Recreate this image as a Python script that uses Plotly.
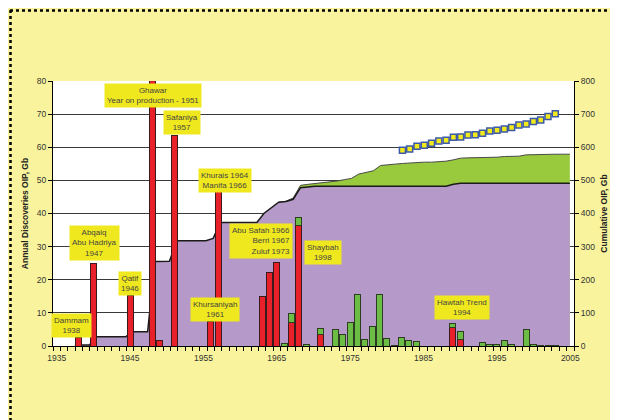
import plotly.graph_objects as go

# ---------------- data ----------------
red_years = [1938, 1940, 1945, 1948, 1949, 1951, 1956, 1957, 1963, 1964, 1965,
             1967, 1968, 1971, 1989, 1990]
red_values = [2.7, 25.0, 15.3, 200, 1.6, 63.6, 7.4, 46.9, 14.8, 22.1, 25.3,
              7.2, 36.3, 3.5, 5.6, 2.1]

green_years = [1966, 1967, 1968, 1969, 1971, 1973, 1974, 1975, 1976, 1977, 1978,
               1979, 1980, 1981, 1982, 1983, 1984, 1989, 1990, 1993, 1994, 1995,
               1996, 1997, 1999, 2000, 2001, 2002, 2003]
green_values = [0.8, 2.7, 2.6, 0.5, 1.7, 5.0, 3.4, 7.2, 15.5, 2.0, 6.0,
                15.5, 2.2, 0.3, 2.7, 1.8, 1.3, 1.2, 2.2, 1.1, 0.5, 0.5,
                1.7, 0.5, 5.0, 0.5, 0.2, 0.2, 0.2]

cum_years = list(range(1937, 2006))
cum_saudi = [0, 2.7, 2.7, 28, 28, 28, 28, 28, 43, 43, 43, 255, 256, 256,
             318, 318, 318, 318, 318, 325, 373,
             373, 373, 373, 373, 373,
             401, 418, 434, 436, 443, 478, 481,
             482, 482, 482, 482, 482, 482, 482, 482, 482, 482, 482, 482, 482,
             482, 482, 482, 482, 482, 482,
             488,
             491, 491, 491, 491, 491, 491, 491, 491, 491, 491, 491, 491, 491,
             491, 491, 491]

total_years = list(range(1965, 2006))
cum_total = [434, 437, 447, 485, 488, 490, 492, 494, 498, 502,
             506, 519, 523, 529, 545, 548, 549, 551, 553, 554,
             555, 555, 556, 558, 562, 567, 568, 568, 569, 570,
             570, 572, 572, 573, 577, 578, 578, 579, 579, 579, 579]

marker_years = list(range(1982, 2004))
marker_values = [591, 595, 603, 606, 612, 619, 621, 630, 631, 637, 638,
                 642, 649, 651, 655, 660, 667, 670, 678, 682, 693, 701]

x_tick_years = [1935, 1945, 1955, 1965, 1975, 1985, 1995, 2005]

label_texts = ["Dammam<br>1938", "Abqaiq<br>Abu Hadriya<br>1947", "Qatif<br>1946",
               "Ghawar<br>Year on production - 1951", "Safaniya<br>1957",
               "Khurais 1964<br>Manifa 1966", "Khursaniyah<br>1961",
               "Abu Safah 1966<br>Berri 1967<br>Zuluf 1973", "Shaybah<br>1998",
               "Hawtah Trend<br>1994"]
label_x = [1937.05, 1940.22, 1945.03, 1948.06, 1952.1, 1957.94, 1956.54,
           1962.82, 1971.23, 1990.27]
label_y = [6.3, 31.0, 18.8, 75.7, 67.6, 50.0, 10.9, 31.6, 28.3, 11.6]
label_align = ["center", "center", "center", "center", "center", "center",
               "center", "right", "center", "center"]

FONT = "Liberation Sans, Arial, sans-serif"
YELLOW_BG = "#f8f39c"
LABEL_BG = "#f0e81e"

fig = go.Figure()

# cumulative areas (base subplot: x / y)
fig.add_trace(go.Scatter(x=total_years, y=cum_total, mode="lines",
                         line=dict(color="#4a4a4a", width=1),
                         fill="tozeroy", fillcolor="#99c93c",
                         xaxis="x", yaxis="y", hoverinfo="skip", showlegend=False))
fig.add_trace(go.Scatter(x=cum_years, y=cum_saudi, mode="lines",
                         line=dict(color="#1a1a1a", width=1.5),
                         fill="tozeroy", fillcolor="#b59ac9",
                         xaxis="x", yaxis="y", hoverinfo="skip", showlegend=False))
fig.add_trace(go.Scatter(x=marker_years, y=marker_values, mode="markers",
                         marker=dict(symbol="square", size=6, color="#f2ea1a",
                                     line=dict(color="#3d5aa8", width=1.5)),
                         xaxis="x", yaxis="y", showlegend=False))

# annual bars (overlay subplot: x2 / y2)
fig.add_trace(go.Bar(x=red_years, y=red_values, marker=dict(color="#e8202a",
                     line=dict(color="#3a1a1a", width=1)),
                     xaxis="x2", yaxis="y2", showlegend=False))
fig.add_trace(go.Bar(x=green_years, y=green_values, marker=dict(color="#6cbd45",
                     line=dict(color="#2e3d22", width=1)),
                     xaxis="x2", yaxis="y2", showlegend=False))

annotations = []
for t, x, y, a in zip(label_texts, label_x, label_y, label_align):
    annotations.append(dict(text=t, x=x, y=y, xref="x2", yref="y2", showarrow=False,
                            align=a, bgcolor=LABEL_BG, borderpad=2,
                            font=dict(family=FONT, size=8, color="#454540")))
annotations.append(dict(text="~200", x=1948.06, y=82.3, xref="x2", yref="y2",
                        showarrow=False, font=dict(family=FONT, size=7.5, color="#333")))

# page pixel -> paper coordinates (page has an 8px body margin; plot spans 53..574 x 81..346)
def px2paper_x(px):
    return (px - 53) / 521.0

def px2paper_y(py):
    return 1 - (py - 81) / 265.0

shapes = [
    dict(type="line", xref="paper", yref="paper", x0=px2paper_x(10), x1=px2paper_x(630),
         y0=px2paper_y(10.5), y1=px2paper_y(10.5), line=dict(color="black", width=2.5, dash="dot")),
    dict(type="line", xref="paper", yref="paper", x0=px2paper_x(10.5), x1=px2paper_x(10.5),
         y0=px2paper_y(10), y1=px2paper_y(430), line=dict(color="black", width=2.5, dash="dot")),
]

fig.update_layout(
    width=610, height=412,
    margin=dict(l=45, r=44, t=73, b=74),
    paper_bgcolor=YELLOW_BG, plot_bgcolor="white",
    font=dict(family=FONT, size=8.5, color="#333"),
    barmode="stack", bargap=0.18,
    showlegend=False,
    annotations=annotations,
    shapes=shapes,
    xaxis=dict(range=[1934, 2005.57], visible=False, fixedrange=True),
    xaxis2=dict(overlaying="x", side="bottom", range=[1934.5, 2005.5],
                tickmode="array", tickvals=x_tick_years,
                ticks="outside", ticklen=4, tickcolor="rgba(0,0,0,0)",
                showline=True, linecolor="black", linewidth=1,
                showgrid=False, zeroline=False,
                tickfont=dict(family=FONT, size=8.5, color="#333"),
                minor=dict(tick0=1934.5, dtick=1, ticks="outside", ticklen=4,
                           tickcolor="black", showgrid=False)),
    yaxis=dict(side="right", range=[0, 800], dtick=100, tick0=0,
               ticks="outside", ticklen=4, tickcolor="black",
               showline=True, linecolor="black", linewidth=1,
               showgrid=True, gridcolor="#3a3a3a", gridwidth=1, zeroline=False,
               tickfont=dict(family=FONT, size=8.5, color="#333"),
               title=dict(text="<b>Cumulative OIP, Gb</b>", standoff=6,
                          font=dict(family=FONT, size=8.5, color="#222"))),
    yaxis2=dict(overlaying="y", side="left", range=[0, 80], dtick=10, tick0=0,
                ticks="outside", ticklen=4, tickcolor="black",
                showline=True, linecolor="black", linewidth=1,
                showgrid=False, zeroline=False,
                tickfont=dict(family=FONT, size=8.5, color="#333"),
                title=dict(text="<b>Annual Discoveries OIP, Gb</b>", standoff=6,
                           font=dict(family=FONT, size=8.5, color="#222"))),
)

fig.write_html(
    "out.html",
    post_script="document.documentElement.style.overflow='hidden';"
                "document.body.style.overflow='hidden';",
)
